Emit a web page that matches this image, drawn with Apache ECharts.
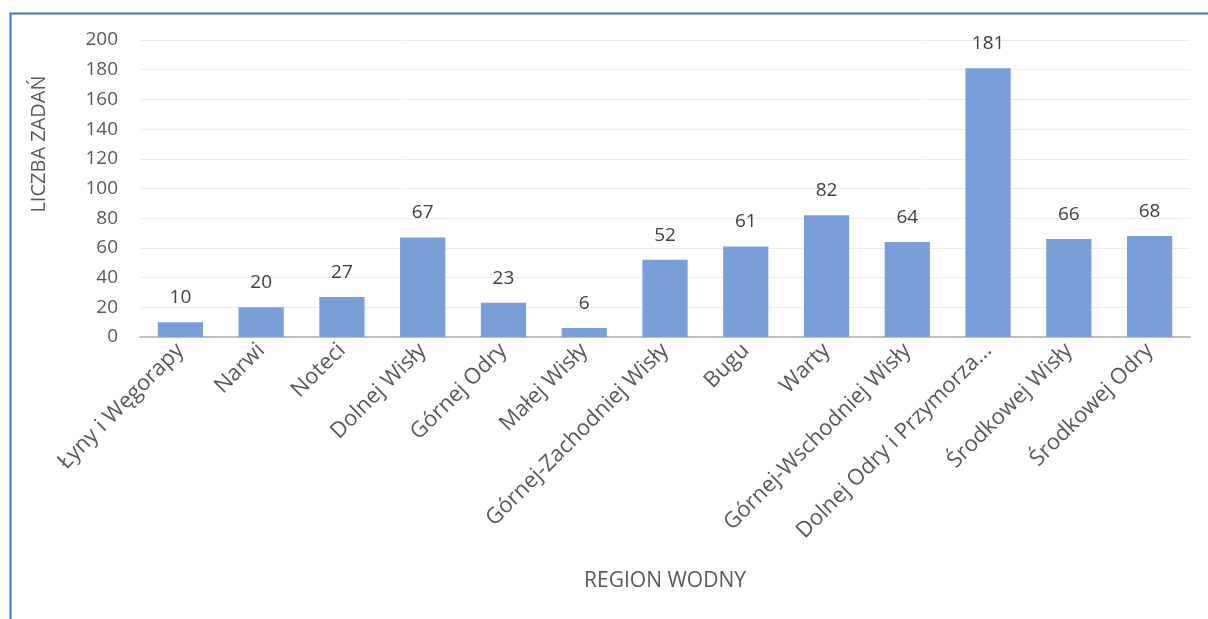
<!DOCTYPE html>
<html>
<head>
<meta charset="utf-8">
<script src="https://cdn.jsdelivr.net/npm/echarts@6/dist/echarts.min.js"></script>
<style>
  html, body { margin: 0; padding: 0; background: #fff; }
  #chart { width: 1208px; height: 619px; }
</style>
</head>
<body>
<div id="chart"></div>
<script>
const regions = [
  'Łyny i Węgorapy', 'Narwi', 'Noteci', 'Dolnej Wisły', 'Górnej Odry',
  'Małej Wisły', 'Górnej-Zachodniej Wisły', 'Bugu', 'Warty',
  'Górnej-Wschodniej Wisły', 'Dolnej Odry i Przymorza...', 'Środkowej Wisły', 'Środkowej Odry'
]
const taskCounts = [10, 20, 27, 67, 23, 6, 52, 61, 82, 64, 181, 66, 68]

const textColor = '#595959'
const font = 'Open Sans'

const chart = echarts.init(document.getElementById('chart'))

chart.setOption({
  animation: false,
  textStyle: { fontFamily: font },
  graphic: [
    {
      type: 'rect',
      left: 8,
      top: 11,
      shape: { width: 1220, height: 640 },
      style: { fill: 'none', stroke: '#4472C4', lineWidth: 2 }
    },
    {
      // y axis title sits above the plot centre in the original
      type: 'text',
      x: 39,
      y: 144,
      rotation: Math.PI / 2,
      style: {
        text: 'LICZBA ZADAŃ',
        fill: textColor,
        font: '20px "Open Sans"',
        textAlign: 'center',
        textVerticalAlign: 'middle'
      }
    }
  ],
  grid: { left: 140, right: 18, top: 40, bottom: 282 },
  xAxis: {
    type: 'category',
    data: regions,
    name: 'REGION WODNY',
    nameLocation: 'middle',
    nameGap: 234,
    nameTextStyle: { color: textColor, fontSize: 21, fontFamily: font },
    axisLine: { lineStyle: { color: '#bfbfbf', width: 2 } },
    axisTick: { show: false },
    axisLabel: {
      rotate: 45,
      interval: 0,
      color: textColor,
      fontSize: 22,
      margin: 10
    }
  },
  yAxis: {
    type: 'value',
    min: 0,
    max: 200,
    interval: 20,
    axisLine: { show: false },
    axisTick: { show: false },
    axisLabel: { color: textColor, fontSize: 19, margin: 22 },
    splitLine: { lineStyle: { color: '#ececec', width: 1 } }
  },
  series: [
    {
      type: 'bar',
      data: taskCounts,
      barWidth: '56%',
      itemStyle: { color: '#7A9FD8' },
      label: {
        show: true,
        position: 'top',
        distance: 15,
        color: '#404040',
        fontSize: 19
      }
    }
  ]
})
</script>
</body>
</html>
